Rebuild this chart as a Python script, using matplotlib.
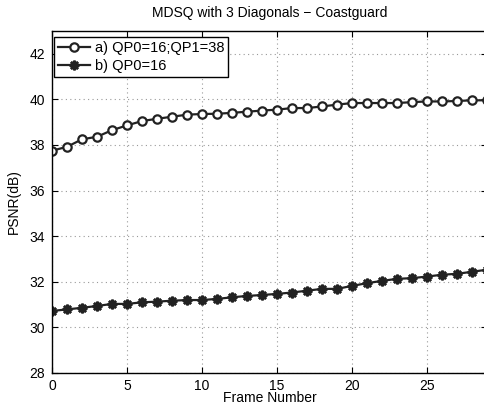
import matplotlib
matplotlib.use('Agg')
import matplotlib.pyplot as plt
import numpy as np

plt.rcParams['font.family'] = ['Liberation Sans', 'DejaVu Sans']

# Frame numbers and PSNR values
frames = list(range(30))
psnr_a = [37.75, 37.92, 38.25, 38.36, 38.65, 38.86, 39.05, 39.15, 39.24, 39.33,
          39.36, 39.37, 39.41, 39.46, 39.51, 39.55, 39.62, 39.62, 39.69, 39.77,
          39.84, 39.84, 39.84, 39.84, 39.88, 39.91, 39.91, 39.93, 39.96, 39.96]
psnr_b = [30.72, 30.79, 30.86, 30.94, 31.03, 31.03, 31.10, 31.13, 31.17, 31.20,
          31.20, 31.25, 31.32, 31.38, 31.42, 31.47, 31.53, 31.61, 31.69, 31.69,
          31.82, 31.94, 32.04, 32.13, 32.16, 32.23, 32.31, 32.35, 32.44, 32.53]
labels = ['a) QP0=16;QP1=38', 'b) QP0=16']
xticks = [0, 5, 10, 15, 20, 25]
yticks = [28, 30, 32, 34, 36, 38, 40, 42]

fig = plt.figure(figsize=(4.85, 4.09), dpi=100)
ax = fig.add_axes([52/485, 36/409, 435/485, 342/409])

line_col = '#222222'
ax.plot(frames, psnr_a, '-', color=line_col, lw=1.6, marker='o', ms=6,
        mfc='white', mec=line_col, mew=1.6, label=labels[0])
ax.plot(frames, psnr_b, '-', color=line_col, lw=1.6, marker=(8, 2, 0), ms=7,
        mec=line_col, mew=1.8, label=labels[1])

ax.set_xlim(0, 29)
ax.set_ylim(28, 43)
ax.set_xticks(xticks)
ax.set_yticks(yticks)
ax.tick_params(direction='in', length=4, labelsize=10, width=0.8,
               top=True, right=True)
ax.tick_params(axis='x', pad=4)
ax.tick_params(axis='y', pad=5)
ax.grid(True, linestyle=(0, (1, 3)), color='#999999', lw=0.8)
for s in ax.spines.values():
    s.set_linewidth(1.0)
    s.set_color('black')

ax.set_title('MDSQ with 3 Diagonals \u2212 Coastguard', fontsize=10, pad=10)
ax.set_xlabel('Frame Number', fontsize=10, labelpad=-1)
ax.set_ylabel('PSNR(dB)', fontsize=10, labelpad=6)

leg = ax.legend(loc='upper left', bbox_to_anchor=(0.004, 0.983),
                borderaxespad=0, fontsize=10.5, fancybox=False,
                edgecolor='black', framealpha=1, handlelength=2.2,
                handletextpad=0.3, borderpad=0.3, labelspacing=0.25)
leg.get_frame().set_linewidth(1.0)

fig.savefig('out.png', dpi=100)
